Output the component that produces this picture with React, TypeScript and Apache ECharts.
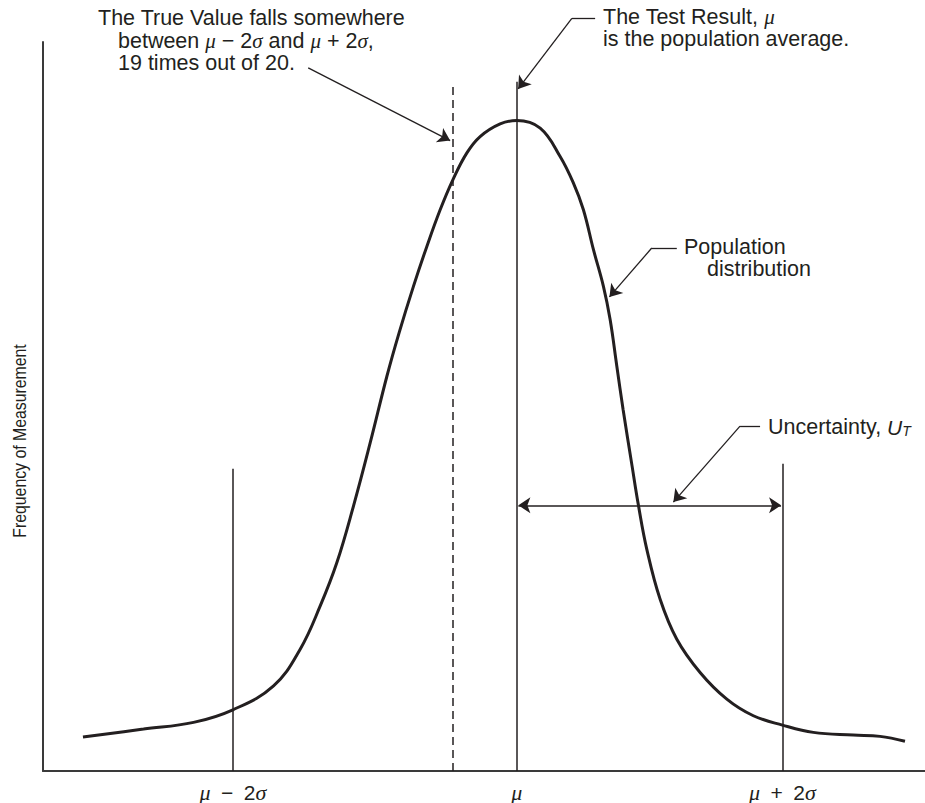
import React, { useEffect, useRef } from "react";
import * as echarts from "echarts";

// ---- data (arbitrary measurement units: x 0..100 along the axis, y 0..100 frequency) ----
const curveX = [4.53, 11.4, 17.07, 21.53, 26.14, 29.16, 31.43, 33.32, 35.2, 37.1, 38.99, 40.38, 42.0, 43.52, 45.03, 46.47, 48.06, 49.56, 51.83, 53.72, 56.37, 58.63, 60.14, 61.27, 62.41, 63.54, 64.3, 65.06, 65.77, 66.79, 67.51, 68.46, 69.97, 71.86, 74.5, 77.53, 80.54, 83.83, 87.34, 91.87, 94.9, 97.73];
const curveY = [4.66, 5.75, 6.67, 8.4, 11.68, 16.71, 22.64, 28.59, 36.34, 45.03, 54.15, 60.14, 66.48, 71.96, 76.99, 81.1, 84.79, 87.03, 88.77, 89.22, 88.18, 84.29, 80.64, 76.99, 71.51, 66.48, 61.92, 55.52, 49.59, 41.82, 36.44, 30.41, 23.56, 18.08, 13.52, 9.86, 7.58, 6.3, 5.3, 4.93, 4.75, 4.07];

const tickValues = [21.53, 53.72, 83.83];
const tickLabels = ["{m|μ}\u2002−\u20022{m|σ}", "{m|μ}", "{m|μ}\u2002+\u20022{m|σ}"];

const markerX = [21.53, 53.72, 83.83];
const markerTop = [41.47, 94.56, 42.15];
const trueValueX = 46.47;
const trueValueTop = 93.97;

const uncertaintyFrom = [53.9, 36.44];
const uncertaintyTo = [83.68, 36.44];

// leader lines: [start of horizontal, bend, arrow tip]
const leaderTrue = [[30.07, 96.44], [46.16, 86.48]];
const leaderTest = [[62.6, 103.25], [59.96, 103.25], [53.87, 93.56]];
const leaderPop = [[71.86, 71.74], [69.02, 71.74], [64.22, 65.03]];
const leaderUnc = [[81.3, 47.3], [79.03, 47.3], [71.47, 36.89]];

const INK = "#231f20";
const FONT = "Liberation Sans";

export default function App() {
  const ref = useRef<HTMLDivElement>(null);
  useEffect(() => {
    if (!ref.current) return;
    const chart = echarts.init(ref.current, undefined, { renderer: "svg" });
    const rich = {
      m: { fontFamily: "Liberation Serif", fontStyle: "italic", fontSize: 21, fill: INK },
      u: { fontFamily: FONT, fontStyle: "italic", fontSize: 21, fill: INK },
      t: { fontFamily: FONT, fontStyle: "italic", fontSize: 14, lineHeight: 12, verticalAlign: "bottom", fill: INK },
      i1: { width: 20 },
      i2: { width: 23 },
    };
    const block = (text: string, x: number, yTop: number, lineHeight: number) => ({
      type: "text",
      x,
      y: yTop,
      style: {
        text,
        fontFamily: FONT,
        fontSize: 21.5,
        lineHeight,
        fill: INK,
        align: "left",
        verticalAlign: "top",
        rich: Object.fromEntries(Object.entries(rich).map(([k, v]: any) => [k, k === "t" ? v : { ...v, lineHeight }])),
      },
    });
    chart.setOption({
      animation: false,
      grid: { left: 43, right: 0, top: 42, bottom: 31 },
      xAxis: {
        type: "value",
        min: 0,
        max: 100,
        splitLine: { show: false },
        axisTick: { show: false },
        axisLine: { show: true, lineStyle: { color: "#3a3a3a", width: 2 } },
        axisLabel: {
          customValues: tickValues,
          margin: 10,
          color: INK,
          fontFamily: FONT,
          fontSize: 21,
          formatter: (v: number) => {
            const i = tickValues.findIndex((t) => Math.abs(t - v) < 1e-6);
            return i >= 0 ? tickLabels[i] : "";
          },
          rich: { m: { fontFamily: "Liberation Serif", fontStyle: "italic", fontSize: 22, color: INK } },
        },
      },
      yAxis: {
        type: "value",
        min: 0,
        max: 100,
        splitLine: { show: false },
        axisTick: { show: false },
        axisLabel: { show: false },
        axisLine: { show: true, lineStyle: { color: "#3a3a3a", width: 2 } },
      },
      series: [
        {
          type: "lines",
          coordinateSystem: "cartesian2d",
          clip: false,
          silent: true,
          lineStyle: { color: INK, width: 1.5, opacity: 1 },
          symbol: "none",
          data: markerX.map((x, i) => ({ coords: [[x, 0], [x, markerTop[i]]] })),
        },
        {
          type: "lines",
          coordinateSystem: "cartesian2d",
          clip: false,
          silent: true,
          lineStyle: { color: INK, width: 1.5, type: [8, 5], opacity: 1 },
          symbol: "none",
          data: [{ coords: [[trueValueX, 0], [trueValueX, trueValueTop]] }],
        },
        {
          type: "line",
          data: curveX.map((x, i) => [x, curveY[i]]),
          smooth: 0.4,
          showSymbol: false,
          lineStyle: { color: INK, width: 3 },
          silent: true,
        },
        {
          type: "lines",
          coordinateSystem: "cartesian2d",
          clip: false,
          silent: true,
          lineStyle: { color: INK, width: 1.5, opacity: 1 },
          symbol: ["arrow", "arrow"],
          symbolSize: 12,
          data: [{ coords: [uncertaintyFrom, uncertaintyTo] }],
        },
        {
          type: "lines",
          coordinateSystem: "cartesian2d",
          clip: false,
          silent: true,
          lineStyle: { color: INK, width: 1.3, opacity: 1 },
          symbol: "none",
          data: [leaderTest, leaderPop, leaderUnc].map((p) => ({ coords: [p[0], p[1]] })),
        },
        {
          type: "lines",
          coordinateSystem: "cartesian2d",
          clip: false,
          silent: true,
          lineStyle: { color: INK, width: 1.3, opacity: 1 },
          symbol: ["none", "arrow"],
          symbolSize: 12,
          data: [leaderTrue, leaderTest.slice(1), leaderPop.slice(1), leaderUnc.slice(1)].map((p) => ({ coords: [p[0], p[1]] })),
        },
      ],
      graphic: [
        block("The True Value falls somewhere\n{i1| }between {m|μ} − 2{m|σ} and {m|μ} + 2{m|σ},\n{i1| }19 times out of 20.", 98, 7, 22.5),
        block("The Test Result, {m|μ}\nis the population average.", 603, 6, 22),
        block("Population\n{i2| }distribution", 684, 236, 22),
        block("Uncertainty, {u|U}{t|T}", 768, 416, 22),
        {
          type: "text",
          x: 20,
          y: 441,
          rotation: Math.PI / 2,
          scaleX: 0.88,
          style: { text: "Frequency of Measurement", fontFamily: FONT, fontSize: 18, fill: INK, align: "center", verticalAlign: "middle" },
        },
      ],
    });
    return () => chart.dispose();
  }, []);
  return <div ref={ref} style={{ position: "fixed", left: 0, top: 0, width: 925, height: 803, background: "#fff" }} />;
}
